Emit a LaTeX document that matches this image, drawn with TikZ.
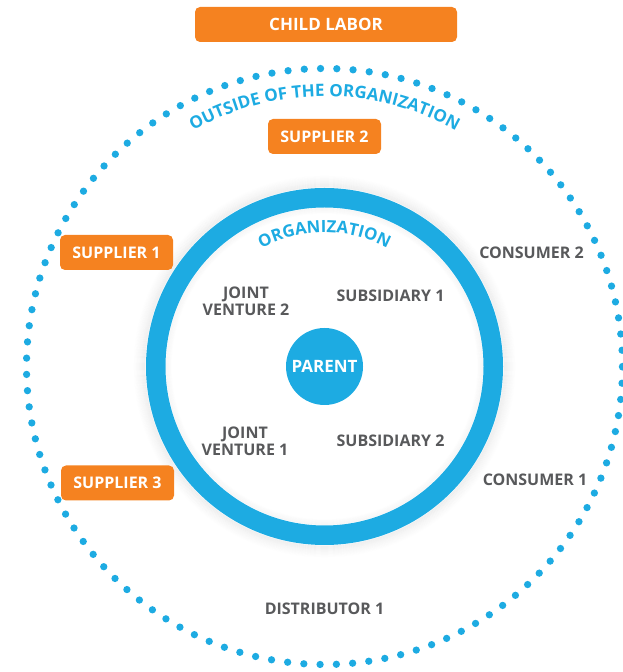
\documentclass[tikz,border=0pt]{standalone}
\usepackage{fontspec}
\newfontfamily\osans{Open Sans}
\usetikzlibrary{decorations.text,calc}
\definecolor{cblue}{RGB}{29,171,226}
\definecolor{corange}{RGB}{245,130,32}
\definecolor{cgrey}{RGB}{88,89,91}
\begin{document}
\begin{tikzpicture}[x=1pt,y=1pt,
  obox/.style={fill=corange, rounded corners=5pt, text=white,
    font=\osans\bfseries\fontsize{16}{18}\selectfont, minimum height=35pt, inner sep=0pt},
  glabel/.style={text=cgrey, font=\osans\bfseries\fontsize{16}{16.5}\selectfont,
    align=center, inner sep=0pt}]
\useasboundingbox (0,0) rectangle (623,672);
\coordinate (C) at (324.5,305.5);
% soft shadow of the ring
\foreach \k in {1,...,12}{
  \pgfmathsetmacro\op{0.05*(13-\k)/12}
  \draw[black, opacity=\op, line width=1.1pt] (C) circle[radius=178.5+\k];
}
\foreach \k in {1,...,6}{
  \pgfmathsetmacro\op{0.03*(7-\k)/6}
  \draw[black, opacity=\op, line width=1.1pt] (C) circle[radius=159-\k];
}
\draw[cblue, line width=19.5pt] (C) circle[radius=168.75];
\draw[cblue, line width=7.3pt, line cap=round, dash pattern=on 0pt off 16.28pt] (C) circle[radius=298];
\node[circle, fill=cblue, minimum size=77pt, inner sep=0pt, text=white,
  font=\osans\bfseries\fontsize{17}{18}\selectfont] (parent) at (C) {PARENT};
% curved texts
\path[decorate, decoration={text along path, text align=center,
  text={|\osans\bfseries\fontsize{17}{18}\selectfont\color{cblue}|OUTSIDE OF THE ORGANIZATION}}]
  ($(C)+(150:270)$) arc[start angle=150, end angle=30, radius=270];
\path[decorate, decoration={text along path, text align=center,
  text={|\osans\bfseries\fontsize{16.8}{18}\selectfont\color{cblue}|ORGANIZATION}}]
  ($(C)+(140:134)$) arc[start angle=140, end angle=40, radius=134];
% orange boxes
\node[obox, minimum width=262pt, font=\osans\bfseries\fontsize{17}{18}\selectfont] (child) at (326,647.5) {CHILD LABOR};
\node[obox, minimum width=113pt] (sup2) at (324.5,535.5) {SUPPLIER 2};
\node[obox, minimum width=113pt] (sup1) at (116.5,419.5) {SUPPLIER 1};
\node[obox, minimum width=113pt] (sup3) at (117.5,189) {SUPPLIER 3};
% grey labels
\node[glabel] (con2) at (531.5,419) {CONSUMER 2};
\node[glabel] (con1) at (535,192) {CONSUMER 1};
\node[glabel] (dist) at (324.5,63) {DISTRIBUTOR 1};
\node[glabel] (jv2) at (246,370.5) {JOINT\\VENTURE 2};
\node[glabel] (sub1) at (390.5,376.5) {SUBSIDIARY 1};
\node[glabel] (jv1) at (245,230.5) {JOINT\\VENTURE 1};
\node[glabel] (sub2) at (390.5,231) {SUBSIDIARY 2};
\end{tikzpicture}
\end{document}
